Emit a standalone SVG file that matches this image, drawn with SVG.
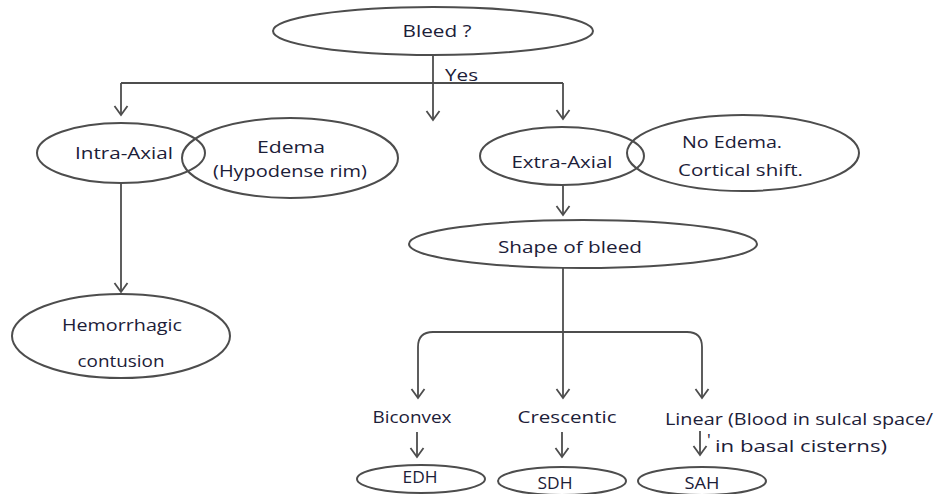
<svg xmlns="http://www.w3.org/2000/svg" width="942" height="494" viewBox="0 0 942 494">
  <style>
    .node ellipse { fill: none; stroke: #4d4d4d; stroke-width: 2; }
    .lbl { font-family: "Open Sans", "Liberation Sans", sans-serif; font-size: 17px; font-weight: 500; fill: #1c2038; }
    .conn { fill: none; stroke: #4d4d4d; stroke-width: 1.8; }
  </style>
  <defs>
    <marker id="arrow" viewBox="-12 -8 14 16" refX="0" refY="0" markerWidth="14" markerHeight="16" markerUnits="userSpaceOnUse" orient="auto">
      <path d="M-9,-6.5 L0,0 L-9,6.5" fill="none" stroke="#4d4d4d" stroke-width="1.8" stroke-linejoin="miter"/>
    </marker>
  </defs>
  <rect width="942" height="494" fill="#ffffff"/>

  <!-- connectors -->
  <g id="connectors" class="conn">
    <path d="M433,55 V120" marker-end="url(#arrow)"/>
    <path d="M121,83 H563"/>
    <path d="M121,83 V115" marker-end="url(#arrow)"/>
    <path d="M563,83 V119" marker-end="url(#arrow)"/>
    <path d="M121,183 V292" marker-end="url(#arrow)"/>
    <path d="M563,186 V215" marker-end="url(#arrow)"/>
    <path d="M563,268 V398" marker-end="url(#arrow)"/>
    <!-- branch bar with rounded shoulders -->
    <path d="M563,332 H433 Q418,332 418,347 V398" marker-end="url(#arrow)"/>
    <path d="M563,332 H687 Q702,332 702,347 V398" marker-end="url(#arrow)"/>
    <path d="M417,432 V457" marker-end="url(#arrow)"/>
    <path d="M562,432 V457" marker-end="url(#arrow)"/>
    <path d="M700,431 V455" marker-end="url(#arrow)"/>
  </g>
  <text class="lbl" x="445" y="81" textLength="33" lengthAdjust="spacingAndGlyphs">Yes</text>

  <g id="bleed" class="node">
    <ellipse cx="433" cy="31" rx="160" ry="24"/>
    <text class="lbl" x="437" y="37" text-anchor="middle" textLength="69" lengthAdjust="spacingAndGlyphs">Bleed ?</text>
  </g>

  <g id="intra-axial" class="node">
    <ellipse cx="121" cy="153" rx="84" ry="30"/>
    <text class="lbl" x="124" y="159" text-anchor="middle" textLength="98" lengthAdjust="spacingAndGlyphs">Intra-Axial</text>
  </g>

  <g id="edema" class="node">
    <ellipse cx="290" cy="158" rx="108" ry="40"/>
    <text class="lbl" x="291" y="153" text-anchor="middle" textLength="68" lengthAdjust="spacingAndGlyphs">Edema</text>
    <text class="lbl" x="290" y="177" text-anchor="middle" textLength="154" lengthAdjust="spacingAndGlyphs">(Hypodense rim)</text>
  </g>

  <g id="hemorrhagic-contusion" class="node">
    <ellipse cx="121" cy="336" rx="109" ry="42"/>
    <text class="lbl" x="122" y="331" text-anchor="middle" textLength="120" lengthAdjust="spacingAndGlyphs">Hemorrhagic</text>
    <text class="lbl" x="121" y="367" text-anchor="middle" textLength="87" lengthAdjust="spacingAndGlyphs">contusion</text>
  </g>

  <g id="extra-axial" class="node">
    <ellipse cx="562" cy="156" rx="82" ry="29"/>
    <text class="lbl" x="562" y="168" text-anchor="middle" textLength="101" lengthAdjust="spacingAndGlyphs">Extra-Axial</text>
  </g>

  <g id="no-edema" class="node">
    <ellipse cx="743" cy="153" rx="116" ry="38"/>
    <text class="lbl" x="682" y="148" textLength="100" lengthAdjust="spacingAndGlyphs">No Edema.</text>
    <text class="lbl" x="678" y="176" textLength="125" lengthAdjust="spacingAndGlyphs">Cortical shift.</text>
  </g>

  <g id="shape-of-bleed" class="node">
    <ellipse cx="583" cy="244" rx="174" ry="24"/>
    <text class="lbl" x="570" y="253" text-anchor="middle" textLength="144" lengthAdjust="spacingAndGlyphs">Shape of bleed</text>
  </g>

  <g id="biconvex" class="node">
    <text class="lbl" x="412" y="423" text-anchor="middle" textLength="79" lengthAdjust="spacingAndGlyphs">Biconvex</text>
  </g>

  <g id="crescentic" class="node">
    <text class="lbl" x="567" y="423" text-anchor="middle" textLength="99" lengthAdjust="spacingAndGlyphs">Crescentic</text>
  </g>

  <g id="linear" class="node">
    <text class="lbl" x="665" y="425" textLength="268" lengthAdjust="spacingAndGlyphs">Linear (Blood in sulcal space/</text>
    <text class="lbl" x="707" y="446" font-size="14">'</text>
    <text class="lbl" x="715" y="452" textLength="172" lengthAdjust="spacingAndGlyphs">in basal cisterns)</text>
  </g>

  <g id="edh" class="node">
    <ellipse cx="421" cy="479" rx="64" ry="14"/>
    <text class="lbl" x="420" y="483" text-anchor="middle" textLength="35" lengthAdjust="spacingAndGlyphs">EDH</text>
  </g>

  <g id="sdh" class="node">
    <ellipse cx="562" cy="481" rx="64" ry="14"/>
    <text class="lbl" x="555" y="489" text-anchor="middle" textLength="35" lengthAdjust="spacingAndGlyphs">SDH</text>
  </g>

  <g id="sah" class="node">
    <ellipse cx="702" cy="481" rx="64" ry="14"/>
    <text class="lbl" x="702" y="489" text-anchor="middle" textLength="35" lengthAdjust="spacingAndGlyphs">SAH</text>
  </g>
</svg>
